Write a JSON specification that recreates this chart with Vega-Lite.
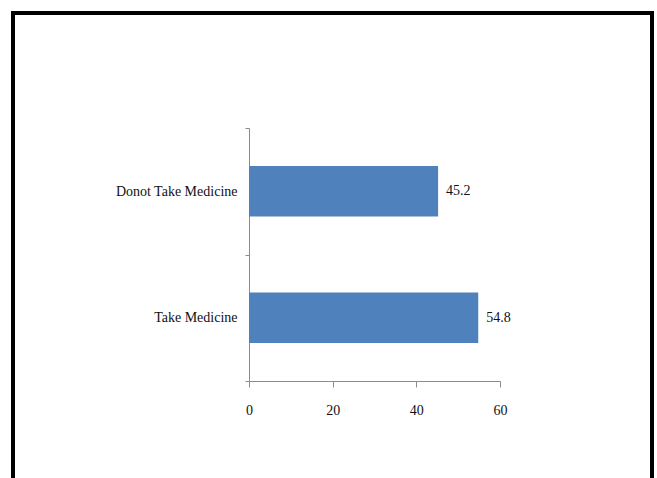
{
  "$schema": "https://vega.github.io/schema/vega-lite/v6.json",
  "autosize": "none",
  "padding": {"left": 13, "top": 13, "right": 3, "bottom": -3},
  "width": 639,
  "height": 468,
  "background": "white",
  "config": {
    "view": {"stroke": "#000000", "strokeWidth": 4},
    "font": "Liberation Serif"
  },
  "data": {
    "values": [
      {"group": "Donot Take Medicine", "percent": 45.2},
      {"group": "Take Medicine", "percent": 54.8}
    ]
  },
  "encoding": {
    "y": {
      "field": "group",
      "type": "nominal",
      "sort": ["Donot Take Medicine", "Take Medicine"],
      "title": null,
      "scale": {"range": [115, 368], "paddingInner": 0, "paddingOuter": 0},
      "axis": {
        "offset": -236,
        "tickBand": "extent",
        "domainColor": "#8c8c8c",
        "tickColor": "#8c8c8c",
        "tickSize": 4,
        "labelPadding": 8,
        "labelFont": "Liberation Serif",
        "labelFontSize": 14,
        "labelColor": "#111111",
        "grid": false
      }
    },
    "x": {
      "field": "percent",
      "type": "quantitative",
      "title": null,
      "scale": {"domain": [0, 60], "range": [236, 487], "nice": false},
      "axis": {
        "offset": -100,
        "values": [0, 20, 40, 60],
        "labelFlush": false,
        "domainColor": "#8c8c8c",
        "tickColor": "#8c8c8c",
        "tickSize": 6,
        "labelPadding": 16,
        "labelFont": "Liberation Serif",
        "labelFontSize": 14,
        "labelColor": "#111111",
        "grid": false
      }
    }
  },
  "layer": [
    {
      "mark": {"type": "bar", "color": "#4F81BD", "height": {"band": 0.4}}
    },
    {
      "mark": {"type": "text", "align": "left", "baseline": "middle", "dx": 8, "font": "Liberation Serif", "fontSize": 14, "color": "#111111"},
      "encoding": {"text": {"field": "percent", "type": "quantitative", "format": ".1f"}}
    }
  ]
}
